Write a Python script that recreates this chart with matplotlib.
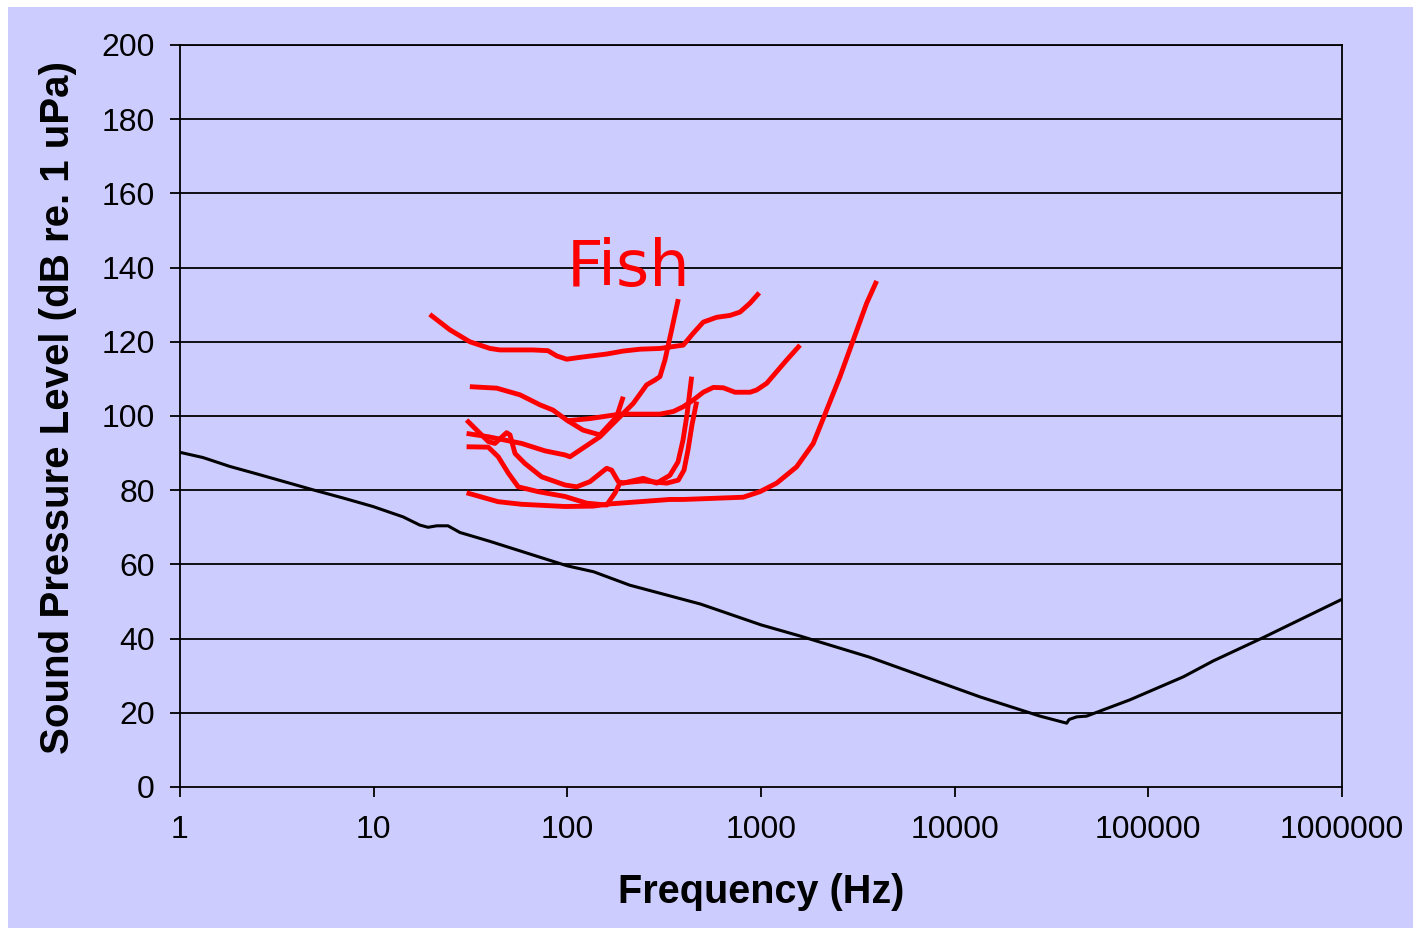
import matplotlib
matplotlib.use("Agg")
import matplotlib.pyplot as plt
from matplotlib.patches import Rectangle

# black reference curve
ref_freq = [1, 1.315, 1.81, 2.49, 3.40, 4.86, 6.95, 9.92, 14.2, 17.3, 19.1, 21.2, 24.2, 27.9,
            39.9, 100, 137, 210, 488, 1000, 1590, 3630, 9460, 13500, 27600, 37900, 39000,
            42700, 48000, 80400, 151700, 216700, 392900, 1000000]
ref_db = [90.2, 88.8, 86.4, 84.4, 82.4, 80.1, 77.9, 75.6, 72.8, 70.6, 70.0, 70.4, 70.4, 68.6,
          66.2, 59.6, 58.0, 54.4, 49.3, 43.7, 40.7, 35.0, 27.2, 24.3, 19.1, 17.2, 18.2,
          18.9, 19.1, 23.5, 29.7, 34.0, 40.3, 50.6]

# fish audiograms
fishA_freq = [19.5, 24.8, 31.4, 39.9, 44.9, 66.5, 79.5, 88.1, 99.3, 116.2, 159.6, 194.5,
              237.3, 300.8, 396.9, 447, 503.5, 590.4, 691.5, 779.3, 877.8, 979.8]
fishA_db = [127.4, 123.2, 120.0, 118.2, 117.8, 117.8, 117.6, 116.2, 115.3, 115.8, 116.7, 117.5,
            118.0, 118.2, 119.1, 122.3, 125.3, 126.6, 127.1, 128.0, 130.4, 133.2]

fishB_freq = [31.4, 43.2, 57.0, 72.3, 84.3, 99.3, 120.5, 147.4, 179.8, 194.5]
fishB_db = [107.9, 107.5, 105.7, 103.0, 101.6, 98.9, 96.2, 94.9, 99.8, 105.2]

fishC_freq = [99.3, 130.9, 187.0, 300.8, 352.5, 397, 447, 503.5, 567.4, 638.9, 734, 878,
              950, 1070, 1358, 1591]
fishC_db = [98.7, 99.3, 100.5, 100.5, 101.2, 102.5, 104.3, 106.4, 107.7, 107.6, 106.4, 106.4,
            107.0, 108.8, 115.1, 119.1]

fishD_freq = [30.2, 39.1, 58.1, 76.7, 97.3, 103.2, 116.2, 147.4, 187.0, 219.1, 257.0, 283.7,
              300.8, 319.4, 345.7, 374.2]
fishD_db = [95.3, 94.4, 92.6, 90.6, 89.5, 89.0, 90.8, 94.4, 99.8, 103.4, 108.4, 109.7,
            110.6, 115.1, 123.2, 131.5]

fishE_freq = [30.2, 39.1, 44.0, 49.6, 55.8, 70.8, 97.3, 125.9, 159.7, 176.2, 187.0, 246.6,
              326, 374.2, 400.5, 419.8, 440.3, 465.6]
fishE_db = [91.7, 91.6, 89.0, 84.6, 80.9, 79.6, 78.3, 76.5, 76.0, 79.2, 81.9, 82.5,
            81.9, 82.7, 85.4, 90.8, 97.6, 103.9]

fishF_freq = [30.2, 39.1, 42.3, 48.6, 50.6, 53.7, 60.4, 73.7, 97.3, 111.7, 130.9, 159.7,
              169.4, 183.3, 194.5, 246.6, 289.2, 338.5, 372.8, 395.8, 414.9, 438.6]
fishF_db = [98.9, 93.1, 92.6, 95.5, 94.9, 89.9, 87.2, 83.6, 81.4, 80.9, 82.3, 85.9,
            85.4, 82.3, 81.9, 83.2, 81.9, 84.0, 87.6, 93.5, 100.3, 110.6]

fishG_freq = [30.2, 43.9, 58.1, 97.3, 135.7, 166.0, 338.5, 397, 810, 988, 1205, 1528,
              1862, 2183, 2558, 2997, 3513, 3957]
fishG_db = [79.3, 76.9, 76.2, 75.6, 75.7, 76.3, 77.5, 77.5, 78.1, 79.6, 81.9, 86.3,
            92.6, 101.6, 110.6, 120.5, 130.4, 136.4]

fish_curves = [(fishA_freq, fishA_db), (fishB_freq, fishB_db), (fishC_freq, fishC_db),
               (fishD_freq, fishD_db), (fishE_freq, fishE_db), (fishF_freq, fishF_db),
               (fishG_freq, fishG_db)]

x_ticks = [1, 10, 100, 1000, 10000, 100000, 1000000]
y_ticks = list(range(0, 201, 20))

bg = "#CCCCFF"
plt.rcParams['font.family'] = ['Liberation Sans', 'DejaVu Sans']

fig = plt.figure(figsize=(14.18, 9.35), dpi=100)
fig.patch.set_facecolor("white")
fig.patches.append(Rectangle((0.0056, 0.0075), 0.9908, 0.985, transform=fig.transFigure,
                             facecolor=bg, edgecolor="none", zorder=-10))

ax = fig.add_axes([0.1269, 0.1583, 0.8195, 0.7936])
ax.set_facecolor(bg)
ax.set_xscale("log")
ax.set_xlim(1, 1000000)
ax.set_ylim(0, 200)

for yv in y_ticks[1:]:
    ax.axhline(yv, color="black", lw=1.3, zorder=1)

ax.plot(ref_freq, ref_db, color="black", lw=2.2, zorder=3)
for fx, fy in fish_curves:
    ax.plot(fx, fy, color="red", lw=3.5, zorder=4, solid_capstyle="butt",
            solid_joinstyle="round")

ax.text(208, 135, "Fish", color="red", fontsize=46, family="DejaVu Sans",
        ha="center", va="baseline")

ax.set_xticks(x_ticks)
ax.set_xticklabels([str(v) for v in x_ticks])
ax.xaxis.set_minor_locator(matplotlib.ticker.NullLocator())
ax.set_yticks(y_ticks)
ax.tick_params(axis="both", direction="out", length=7, width=1.3, labelsize=23)
ax.tick_params(axis="x", pad=13)
ax.tick_params(axis="y", pad=11)
for s in ax.spines.values():
    s.set_linewidth(1.3)

ax.set_xlabel("Frequency (Hz)", fontsize=28.5, fontweight="bold", labelpad=20)
ax.set_ylabel("Sound Pressure Level (dB re. 1 uPa)", fontsize=29, fontweight="bold")
ax.yaxis.set_label_coords(-0.089, 0.512)

fig.savefig("out.png", dpi=100)
